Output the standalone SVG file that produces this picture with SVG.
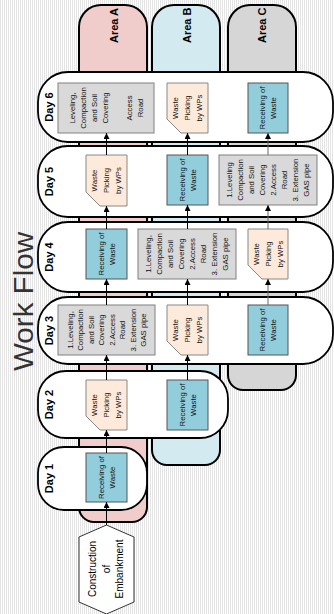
<svg xmlns="http://www.w3.org/2000/svg" width="334" height="614" viewBox="0 0 334 614">
<defs>
<pattern id="stripes" width="2" height="10" patternUnits="userSpaceOnUse">
<rect width="2" height="10" fill="#ffffff"/>
<rect width="1" height="10" fill="#e4e4e4"/>
</pattern>
<marker id="arr" viewBox="0 0 6 6" refX="6" refY="3" markerWidth="6" markerHeight="6" markerUnits="userSpaceOnUse" orient="auto">
<path d="M0,0 L6,3 L0,6 Z" fill="#000"/>
</marker>
<style>
.area{stroke:#000;stroke-width:2}
.lane{fill:#fff;stroke:#000;stroke-width:1.8}
.blue{fill:#92cddc;stroke:#555;stroke-width:1}
.peach{fill:#fdeada;stroke:#888;stroke-width:1}
.gray{fill:#d9d9d9;stroke:#808080;stroke-width:1}
.t{font-family:"Liberation Sans",Arial,sans-serif;font-size:7.8px;fill:#111;text-anchor:middle;dominant-baseline:central}
.day{font-family:"Liberation Sans",Arial,sans-serif;font-size:11px;font-weight:bold;fill:#000;text-anchor:middle}
.arealbl{font-family:"Liberation Sans",Arial,sans-serif;font-size:11px;font-weight:bold;fill:#000}
.hex{font-family:"Liberation Sans",Arial,sans-serif;font-size:10px;fill:#000;text-anchor:middle;dominant-baseline:central}
.title{font-family:"Liberation Sans",Arial,sans-serif;font-size:28px;fill:#333}
.c line{stroke:#000;stroke-width:1;marker-end:url(#arr)}
.c line.g{stroke:#666}
</style>
</defs>
<rect width="334" height="614" fill="url(#stripes)"/>

<g id="areaA">
<path class="area" fill="#f0cdcb" d="M79,27 A22,22 0 0 1 101,5 H125 A22,22 0 0 1 147,27 V507 A15,15 0 0 1 132,522 H94 A15,15 0 0 1 79,507 Z"/>
<text class="arealbl" transform="translate(118,43) rotate(-90)">Area A</text>
</g>
<g id="areaB">
<path class="area" fill="#d3eaf0" d="M152,27 A22,22 0 0 1 174,5 H198 A22,22 0 0 1 220,27 V450 A15,15 0 0 1 205,465 H167 A15,15 0 0 1 152,450 Z"/>
<text class="arealbl" transform="translate(191,43) rotate(-90)">Area B</text>
</g>
<g id="areaC">
<path class="area" fill="#d6d6d6" d="M228,27 A22,22 0 0 1 250,5 H274 A22,22 0 0 1 296,27 V375 A15,15 0 0 1 281,390 H243 A15,15 0 0 1 228,375 Z"/>
<text class="arealbl" transform="translate(266,43) rotate(-90)">Area C</text>
</g>

<g id="day6"><rect class="lane" x="38" y="72" width="295" height="70" rx="30"/><text class="day" transform="translate(53,107) rotate(-90)">Day 6</text></g>
<g id="day5"><rect class="lane" x="38" y="146" width="295" height="71" rx="30"/><text class="day" transform="translate(53,181.5) rotate(-90)">Day 5</text></g>
<g id="day4"><rect class="lane" x="38" y="222" width="295" height="70" rx="30"/><text class="day" transform="translate(53,257) rotate(-90)">Day 4</text></g>
<g id="day3"><rect class="lane" x="38" y="297" width="295" height="67" rx="30"/><text class="day" transform="translate(53,330.5) rotate(-90)">Day 3</text></g>
<g id="day2"><rect class="lane" x="38" y="371" width="190" height="67" rx="28"/><text class="day" transform="translate(53,404.5) rotate(-90)">Day 2</text></g>
<g id="day1"><rect class="lane" x="38" y="447" width="109" height="63" rx="26"/><text class="day" transform="translate(53,478.5) rotate(-90)">Day 1</text></g>

<text class="title" transform="translate(33,371) rotate(-90)" textLength="139" lengthAdjust="spacingAndGlyphs">Work Flow</text>

<!-- Day 6 -->
<g id="d6a"><rect class="gray" x="58" y="83" width="96" height="50"/>
<g transform="translate(106,108) rotate(-90)"><text class="t" y="-34">Leveling,</text><text class="t" y="-23">Compaction</text><text class="t" y="-12">and Soil</text><text class="t" y="-1">Covering</text><text class="t" y="23">Access</text><text class="t" y="34">Road</text></g></g>
<g id="d6b"><path class="peach" d="M167,83 H208 V133 H181 L167,119 Z"/>
<g transform="translate(187.5,108) rotate(-90)"><text class="t" y="-12">Waste</text><text class="t" y="0">Picking</text><text class="t" y="12">by WPs</text></g></g>
<g id="d6c"><rect class="blue" x="248" y="83" width="40" height="50"/>
<g transform="translate(268,108) rotate(-90)"><text class="t" y="-5.5">Receiving of</text><text class="t" y="5.5">Waste</text></g></g>

<!-- Day 5 -->
<g id="d5a"><path class="peach" d="M86,155 H127 V206 H100 L86,192 Z"/>
<g transform="translate(106.5,180.5) rotate(-90)"><text class="t" y="-12">Waste</text><text class="t" y="0">Picking</text><text class="t" y="12">by WPs</text></g></g>
<g id="d5b"><rect class="blue" x="167" y="155" width="41" height="50"/>
<g transform="translate(187.5,180) rotate(-90)"><text class="t" y="-5.5">Receiving of</text><text class="t" y="5.5">Waste</text></g></g>
<g id="d5c"><rect class="gray" x="219" y="155" width="98" height="50"/>
<g transform="translate(268,180) rotate(-90)"><text class="t" y="-38.5">1.Leveling</text><text class="t" y="-27.5">Compaction</text><text class="t" y="-16.5">and Soil</text><text class="t" y="-5.5">Covering</text><text class="t" y="5.5">2.Access</text><text class="t" y="16.5">Road</text><text class="t" y="27.5">3. Extension</text><text class="t" y="38.5">GAS pipe</text></g></g>

<!-- Day 4 -->
<g id="d4a"><rect class="blue" x="86" y="229" width="41" height="50"/>
<g transform="translate(106.5,254) rotate(-90)"><text class="t" y="-5.5">Receiving of</text><text class="t" y="5.5">Waste</text></g></g>
<g id="d4b"><rect class="gray" x="138" y="229" width="98" height="50"/>
<g transform="translate(187,254) rotate(-90)"><text class="t" y="-38.5">1.Leveling,</text><text class="t" y="-27.5">Compaction</text><text class="t" y="-16.5">and Soil</text><text class="t" y="-5.5">Covering</text><text class="t" y="5.5">2.Access</text><text class="t" y="16.5">Road</text><text class="t" y="27.5">3. Extension</text><text class="t" y="38.5">GAS pipe</text></g></g>
<g id="d4c"><path class="peach" d="M248,229 H288 V279 H262 L248,265 Z"/>
<g transform="translate(268,254) rotate(-90)"><text class="t" y="-12">Waste</text><text class="t" y="0">Picking</text><text class="t" y="12">by WPs</text></g></g>

<!-- Day 3 -->
<g id="d3a"><rect class="gray" x="58" y="305" width="97" height="50"/>
<g transform="translate(107,330) rotate(-90)"><text class="t" y="-37">1.Leveling,</text><text class="t" y="-26.5">Compaction</text><text class="t" y="-16">and Soil</text><text class="t" y="-5.5">Covering</text><text class="t" y="5">2.Access</text><text class="t" y="15.5">Road</text><text class="t" y="26">3. Extension</text><text class="t" y="36.5">GAS pipe</text></g></g>
<g id="d3b"><path class="peach" d="M167,305 H208 V355 H181 L167,341 Z"/>
<g transform="translate(187.5,330) rotate(-90)"><text class="t" y="-12">Waste</text><text class="t" y="0">Picking</text><text class="t" y="12">by WPs</text></g></g>
<g id="d3c"><rect class="blue" x="248" y="305" width="40" height="50"/>
<g transform="translate(268,330) rotate(-90)"><text class="t" y="-5.5">Receiving of</text><text class="t" y="5.5">Waste</text></g></g>

<!-- Day 2 -->
<g id="d2a"><path class="peach" d="M86,380 H127 V430 H100 L86,416 Z"/>
<g transform="translate(106.5,405) rotate(-90)"><text class="t" y="-12">Waste</text><text class="t" y="0">Picking</text><text class="t" y="12">by WPs</text></g></g>
<g id="d2b"><rect class="blue" x="167" y="380" width="41" height="50"/>
<g transform="translate(187.5,405) rotate(-90)"><text class="t" y="-5.5">Receiving of</text><text class="t" y="5.5">Waste</text></g></g>

<!-- Day 1 -->
<g id="d1a"><rect class="blue" x="86" y="453" width="41" height="49"/>
<g transform="translate(106.5,477.5) rotate(-90)"><text class="t" y="-5.5">Receiving of</text><text class="t" y="5.5">Waste</text></g></g>

<g id="start"><polygon points="106.5,525 134,537 134,602 106.5,614 79,602 79,537" fill="#fff" stroke="#333" stroke-width="1"/>
<g transform="translate(106.5,569) rotate(-90)"><text class="hex" y="-14">Construction</text><text class="hex" y="0">of</text><text class="hex" y="13">Embankment</text></g></g>

<g id="connectors" class="c">
<line x1="106.5" y1="525" x2="106.5" y2="502"/>
<line x1="106.5" y1="453" x2="106.5" y2="430"/>
<line x1="106.5" y1="380" x2="106.5" y2="355"/>
<line x1="106.5" y1="305" x2="106.5" y2="279"/>
<line x1="106.5" y1="229" x2="106.5" y2="206"/>
<line x1="106.5" y1="155" x2="106.5" y2="133"/>
<line x1="187.5" y1="380" x2="187.5" y2="355"/>
<line x1="187.5" y1="305" x2="187.5" y2="279"/>
<line x1="187.5" y1="229" x2="187.5" y2="205"/>
<line x1="187.5" y1="155" x2="187.5" y2="133"/>
<line class="g" x1="268" y1="305" x2="268" y2="279"/>
<line class="g" x1="268" y1="229" x2="268" y2="205"/>
<line class="g" x1="268" y1="155" x2="268" y2="133"/>
</g>
</svg>
